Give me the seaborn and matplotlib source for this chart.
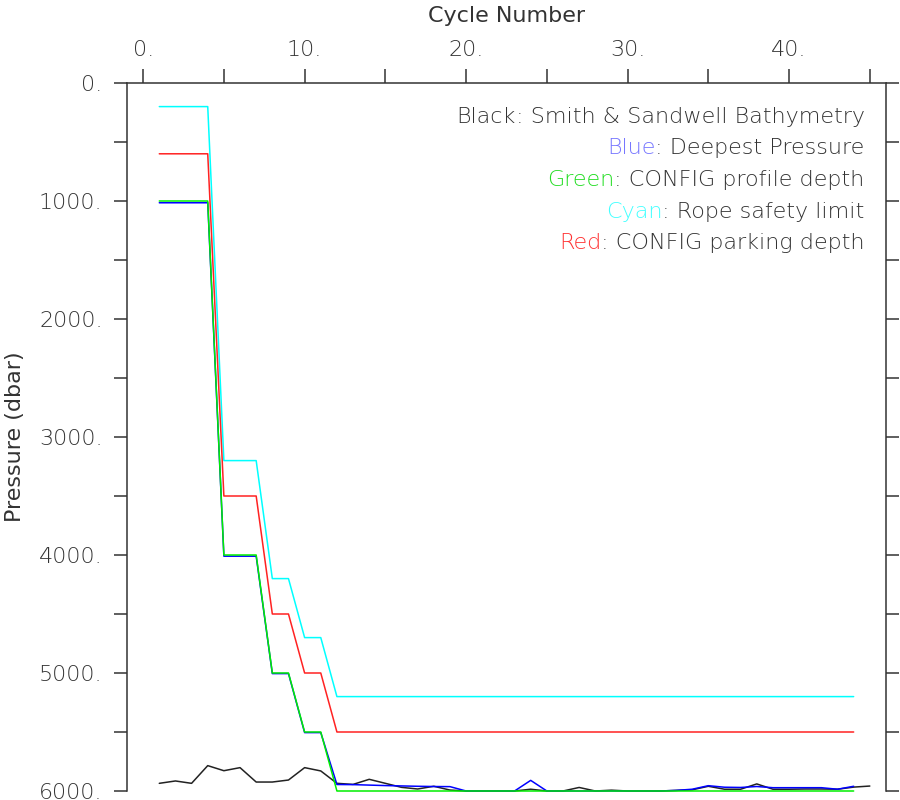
import matplotlib
matplotlib.use('Agg')
import matplotlib.pyplot as plt
from matplotlib.ticker import MultipleLocator, FuncFormatter
import seaborn as sns

# cycle numbers
cycles = [1, 2, 3, 4, 5, 6, 7, 8, 9, 10, 11, 12, 13, 14, 15, 16, 17, 18, 19, 20,
          21, 22, 23, 24, 25, 26, 27, 28, 29, 30, 31, 32, 33, 34, 35, 36, 37, 38,
          39, 40, 41, 42, 43, 44]
cycles_bathy = cycles + [45]

# Smith & Sandwell bathymetry (dbar)
bathy = [5935, 5915, 5935, 5785, 5828, 5802, 5924, 5924, 5907, 5802, 5830, 5935,
         5944, 5901, 5935, 5969, 5983, 5960, 5992, 6000, 6000, 6000, 6000, 5985,
         6000, 6000, 5970, 6000, 5993, 6000, 6000, 6000, 5995, 5990, 5960, 5985,
         5985, 5940, 5985, 5985, 5983, 5983, 5985, 5967, 5958]
# deepest pressure
deepest = [1015, 1015, 1015, 1015, 4010, 4010, 4010, 5005, 5005, 5505, 5505, 5945,
           5946, 5950, 5954, 5957, 5960, 5962, 5963, 6000, 6000, 6000, 6000, 5910,
           6000, 6000, 6000, 6000, 6000, 6000, 6000, 6000, 5995, 5985, 5955, 5968,
           5970, 5962, 5972, 5972, 5972, 5972, 5985, 5960]
# CONFIG profile depth
profile = [1000, 1000, 1000, 1000, 4000, 4000, 4000, 5000, 5000, 5500, 5500, 6000,
           6000, 6000, 6000, 6000, 6000, 6000, 6000, 6000, 6000, 6000, 6000, 6000,
           6000, 6000, 6000, 6000, 6000, 6000, 6000, 6000, 6000, 6000, 6000, 6000,
           6000, 6000, 6000, 6000, 6000, 6000, 6000, 6000]
# rope safety limit
rope = [200, 200, 200, 200, 3200, 3200, 3200, 4200, 4200, 4700, 4700, 5200,
        5200, 5200, 5200, 5200, 5200, 5200, 5200, 5200, 5200, 5200, 5200, 5200,
        5200, 5200, 5200, 5200, 5200, 5200, 5200, 5200, 5200, 5200, 5200, 5200,
        5200, 5200, 5200, 5200, 5200, 5200, 5200, 5200]
# CONFIG parking depth
parking = [600, 600, 600, 600, 3500, 3500, 3500, 4500, 4500, 5000, 5000, 5500,
           5500, 5500, 5500, 5500, 5500, 5500, 5500, 5500, 5500, 5500, 5500, 5500,
           5500, 5500, 5500, 5500, 5500, 5500, 5500, 5500, 5500, 5500, 5500, 5500,
           5500, 5500, 5500, 5500, 5500, 5500, 5500, 5500]

legend_words = ['Black', 'Blue', 'Green', 'Cyan', 'Red']
legend_rest = [': Smith & Sandwell Bathymetry', ': Deepest Pressure',
               ': CONFIG profile depth', ': Rope safety limit',
               ': CONFIG parking depth']
word_colors = ['#333333', '#7777ff', '#22dd22', '#44ffff', '#ff3333']

sns.set_theme(style='ticks')
plt.rcParams['font.family'] = ['DejaVu Sans']
plt.rcParams['font.weight'] = 'light'
ink = '#333333'

fig = plt.figure(figsize=(9, 8), dpi=100)
ax = fig.add_axes([0.1411, 0.01125, 0.8433, 0.885])

lw = 1.1
sns.lineplot(x=cycles_bathy, y=bathy, color='#222222', lw=lw, ax=ax, clip_on=False)
sns.lineplot(x=cycles, y=deepest, color='#0000ff', lw=lw, ax=ax, clip_on=False)
sns.lineplot(x=cycles, y=profile, color='#00ee00', lw=lw, ax=ax, clip_on=False)
sns.lineplot(x=cycles, y=rope, color='#00ffff', lw=lw, ax=ax, clip_on=False)
sns.lineplot(x=cycles, y=parking, color='#ff2222', lw=lw, ax=ax, clip_on=False)

ax.set_xlim(-1, 46)
ax.set_ylim(6000, 0)
ax.xaxis.set_major_locator(MultipleLocator(10))
ax.xaxis.set_minor_locator(MultipleLocator(5))
ax.yaxis.set_major_locator(MultipleLocator(1000))
ax.yaxis.set_minor_locator(MultipleLocator(500))
fmt = FuncFormatter(lambda v, p: f'{v:.0f}.')
ax.xaxis.set_major_formatter(fmt)
ax.yaxis.set_major_formatter(fmt)

ax.tick_params(axis='x', which='both', top=True, bottom=False, labeltop=True,
               labelbottom=False, direction='out', length=10, width=1.1,
               color=ink, pad=6.5, labelsize=16, labelcolor=ink)
ax.tick_params(axis='y', which='both', left=True, right=True, labelleft=True,
               labelright=False, direction='out', length=9.5, width=1.1,
               color=ink, pad=8, labelsize=16, labelcolor=ink)
ax.xaxis.set_label_position('top')
ax.set_xlabel('Cycle Number', fontsize=16, color=ink, labelpad=13)
ax.set_ylabel('Pressure (dbar)', fontsize=16, color=ink, labelpad=10)

ax.spines['bottom'].set_visible(False)
for s in ['top', 'left', 'right']:
    ax.spines[s].set_linewidth(1.1)
    ax.spines[s].set_color(ink)

ys = [0.048, 0.092, 0.137, 0.182, 0.226]
for w, r, c, yy in zip(legend_words, legend_rest, word_colors, ys):
    t = ax.text(0.972, 1 - yy, r, ha='right', va='center', fontsize=16,
                color=ink, transform=ax.transAxes)
    ax.annotate(w, xy=(0, 0), xycoords=t, ha='right', va='bottom',
                fontsize=16, color=c)

fig.savefig('out.png', dpi=100)
